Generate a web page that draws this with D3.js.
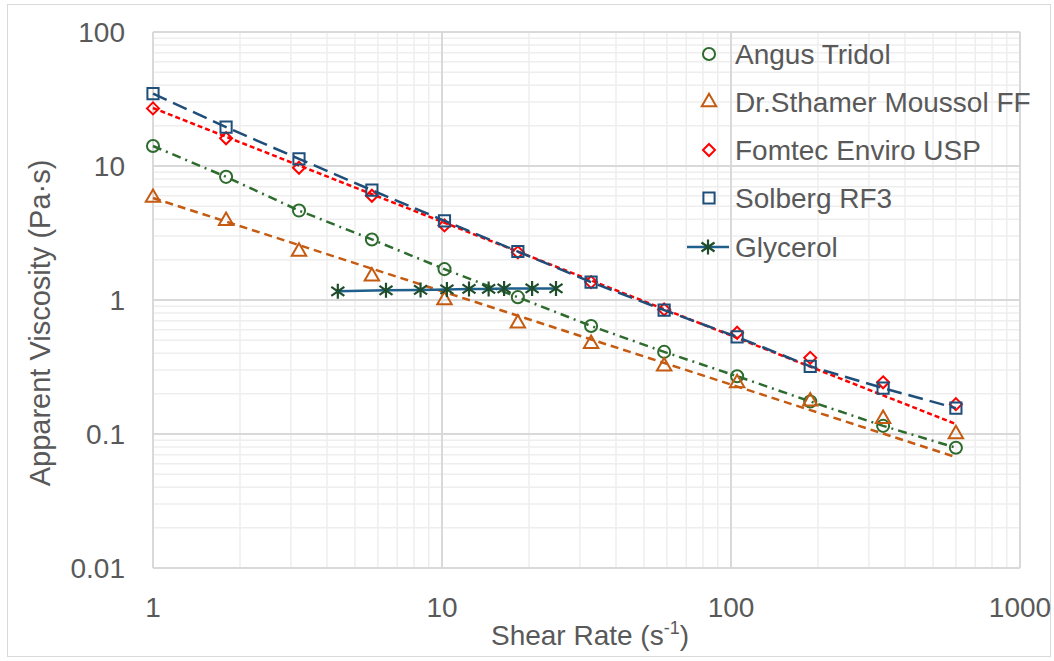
<!DOCTYPE html>
<html>
<head>
<meta charset="utf-8">
<script src="https://cdn.jsdelivr.net/npm/d3@7"></script>
<style>
  body { margin: 0; background: #fff; }
  svg text { font-family: "Liberation Sans", Arial, sans-serif; fill: #595959; }
</style>
</head>
<body>
<div id="chart"></div>
<script>
// shear rates for the foam samples (s^-1)
const shearRate = [1, 1.79, 3.2, 5.72, 10.2, 18.3, 32.8, 58.7, 105, 188, 336, 600];

const angusTridol = [14.1, 8.3, 4.65, 2.83, 1.70, 1.05, 0.64, 0.41, 0.27, 0.175, 0.115, 0.079];
const drSthamer = [5.8, 3.9, 2.3, 1.5, 1.0, 0.67, 0.47, 0.32, 0.24, 0.175, 0.13, 0.10];
const fomtecEnviro = [26.9, 16.1, 9.7, 6.0, 3.6, 2.27, 1.36, 0.85, 0.57, 0.37, 0.243, 0.167];
const solbergRF3 = [34.7, 19.5, 11.3, 6.6, 3.9, 2.3, 1.36, 0.84, 0.53, 0.32, 0.22, 0.156];

// power-law trendlines (y = a * x^b) for Dr.Sthamer and Fomtec
const trendA = [5.77, 27.1];
const trendB = [-0.696, -0.849];

const glycerolRate = [4.36, 6.4, 8.43, 10.4, 12.4, 14.5, 16.4, 20.5, 24.8];
const glycerolVisc = [1.16, 1.18, 1.19, 1.20, 1.21, 1.21, 1.22, 1.22, 1.22];

const xTickLabels = ["1", "10", "100", "1000"];
const yTickLabels = ["0.01", "0.1", "1", "10", "100"];

const width = 1054, height = 661;
const margin = {top: 32, right: 34, bottom: 93, left: 153};

const svg = d3.select("#chart").append("svg")
    .attr("width", width)
    .attr("height", height);

// outer chart border
svg.append("rect")
    .attr("x", 7.5).attr("y", 4.5)
    .attr("width", 1043).attr("height", 652)
    .attr("fill", "#fff")
    .attr("stroke", "#d9d9d9");

let x = d3.scaleLog().domain([1, 1000]).range([margin.left, width - margin.right]),
    y = d3.scaleLog().domain([0.01, 100]).range([height - margin.bottom, margin.top]);

const isMajor = v => Math.abs(Math.log10(v) - Math.round(Math.log10(v))) < 1e-9;

// gridlines
let grid = svg.append("g").attr("class", "grid");
x.ticks().filter(v => !isMajor(v)).forEach(v => {
    grid.append("line")
        .attr("x1", x(v)).attr("x2", x(v))
        .attr("y1", y(0.01)).attr("y2", y(100))
        .attr("stroke", "#eeeeee").attr("stroke-width", 1.5);
});
y.ticks().filter(v => !isMajor(v)).forEach(v => {
    grid.append("line")
        .attr("x1", x(1)).attr("x2", x(1000))
        .attr("y1", y(v)).attr("y2", y(v))
        .attr("stroke", "#eeeeee").attr("stroke-width", 1.5);
});
x.ticks().filter(isMajor).forEach(v => {
    grid.append("line")
        .attr("x1", x(v)).attr("x2", x(v))
        .attr("y1", y(0.01)).attr("y2", y(100))
        .attr("stroke", "#d9d9d9").attr("stroke-width", 2);
});
y.ticks().filter(isMajor).forEach(v => {
    grid.append("line")
        .attr("x1", x(1)).attr("x2", x(1000))
        .attr("y1", y(v)).attr("y2", y(v))
        .attr("stroke", "#d9d9d9").attr("stroke-width", 2);
});

// tick labels
xTickLabels.forEach(t => {
    svg.append("text")
        .attr("x", x(+t)).attr("y", 617)
        .attr("text-anchor", "middle")
        .attr("font-size", 28)
        .text(t);
});
yTickLabels.forEach(t => {
    svg.append("text")
        .attr("x", 125).attr("y", y(+t) + 10)
        .attr("text-anchor", "end")
        .attr("font-size", 28)
        .text(t);
});

// axis titles
let xTitle = svg.append("text")
    .attr("x", 590).attr("y", 645)
    .attr("text-anchor", "middle")
    .attr("font-size", 28);
xTitle.append("tspan").text("Shear Rate (s");
xTitle.append("tspan").attr("font-size", 18).attr("dy", -11).text("-1");
xTitle.append("tspan").attr("dy", 11).text(")");

svg.append("text")
    .attr("transform", "translate(50," + 323 + ") rotate(-90)")
    .attr("text-anchor", "middle")
    .attr("font-size", 29)
    .text("Apparent Viscosity (Pa\u00b7s)");

const line = d3.line().x(d => x(d[0])).y(d => y(d[1]));

const diamondPath = s => `M0,${-s}L${s},0L0,${s}L${-s},0Z`;
const starPath = s => `M0,${-s}V${s}M${-s * 0.87},${-s * 0.6}L${s * 0.87},${s * 0.6}M${-s * 0.87},${s * 0.6}L${s * 0.87},${-s * 0.6}`;

// trend: index into trendA/trendB, or null when the points are joined directly
const series = [
    {name: "Angus Tridol", values: angusTridol, color: "#2e6b2e", dash: "9,5,2,5", trend: null,
        marker: d3.symbol(d3.symbolCircle, 115)()},
    {name: "Dr.Sthamer Moussol FF", values: drSthamer, color: "#c55a11", dash: "8,5", trend: 0,
        marker: d3.symbol(d3.symbolTriangle, 90)()},
    {name: "Fomtec Enviro USP", values: fomtecEnviro, color: "#ff0000", dash: "5,3", trend: 1,
        marker: diamondPath(6)},
    {name: "Solberg RF3", values: solbergRF3, color: "#1f4e79", dash: "15,7", trend: null,
        marker: d3.symbol(d3.symbolSquare, 125)()}
];

series.forEach(s => {
    let pts = shearRate.map((r, i) => [r, s.values[i]]);
    let path = s.trend === null ? pts
        : d3.extent(shearRate).map(r => [r, trendA[s.trend] * Math.pow(r, trendB[s.trend])]);
    svg.append("path")
        .attr("d", line(path))
        .attr("fill", "none")
        .attr("stroke", s.color)
        .attr("stroke-width", 2.5)
        .attr("stroke-dasharray", s.dash);
    svg.append("g").selectAll("path")
        .data(pts)
        .join("path")
        .attr("transform", d => `translate(${x(d[0])},${y(d[1])})`)
        .attr("d", s.marker)
        .attr("fill", "none")
        .attr("stroke", s.color)
        .attr("stroke-width", 2);
});

// glycerol reference
let gly = glycerolRate.map((r, i) => [r, glycerolVisc[i]]);
svg.append("path")
    .attr("d", line(gly))
    .attr("fill", "none")
    .attr("stroke", "#1f5f8b")
    .attr("stroke-width", 2.5);
svg.append("g").selectAll("path")
    .data(gly)
    .join("path")
    .attr("transform", d => `translate(${x(d[0])},${y(d[1])})`)
    .attr("d", starPath(7.5))
    .attr("fill", "none")
    .attr("stroke", "#1e4d2b")
    .attr("stroke-width", 2.2);

// legend
let legend = svg.append("g");
const legendY = [54, 102, 150, 198, 247];
series.forEach((s, i) => {
    legend.append("path")
        .attr("transform", `translate(709,${legendY[i]})`)
        .attr("d", s.marker)
        .attr("fill", "none")
        .attr("stroke", s.color)
        .attr("stroke-width", 2);
    legend.append("text")
        .attr("x", 735).attr("y", legendY[i] + 10)
        .attr("font-size", 28)
        .text(s.name);
});
legend.append("line")
    .attr("x1", 687).attr("x2", 729)
    .attr("y1", legendY[4]).attr("y2", legendY[4])
    .attr("stroke", "#1f5f8b").attr("stroke-width", 2.5);
legend.append("path")
    .attr("transform", `translate(708,${legendY[4]})`)
    .attr("d", starPath(7.5))
    .attr("fill", "none")
    .attr("stroke", "#1e4d2b")
    .attr("stroke-width", 2.2);
legend.append("text")
    .attr("x", 735).attr("y", legendY[4] + 10)
    .attr("font-size", 28)
    .text("Glycerol");
</script>
</body>
</html>
